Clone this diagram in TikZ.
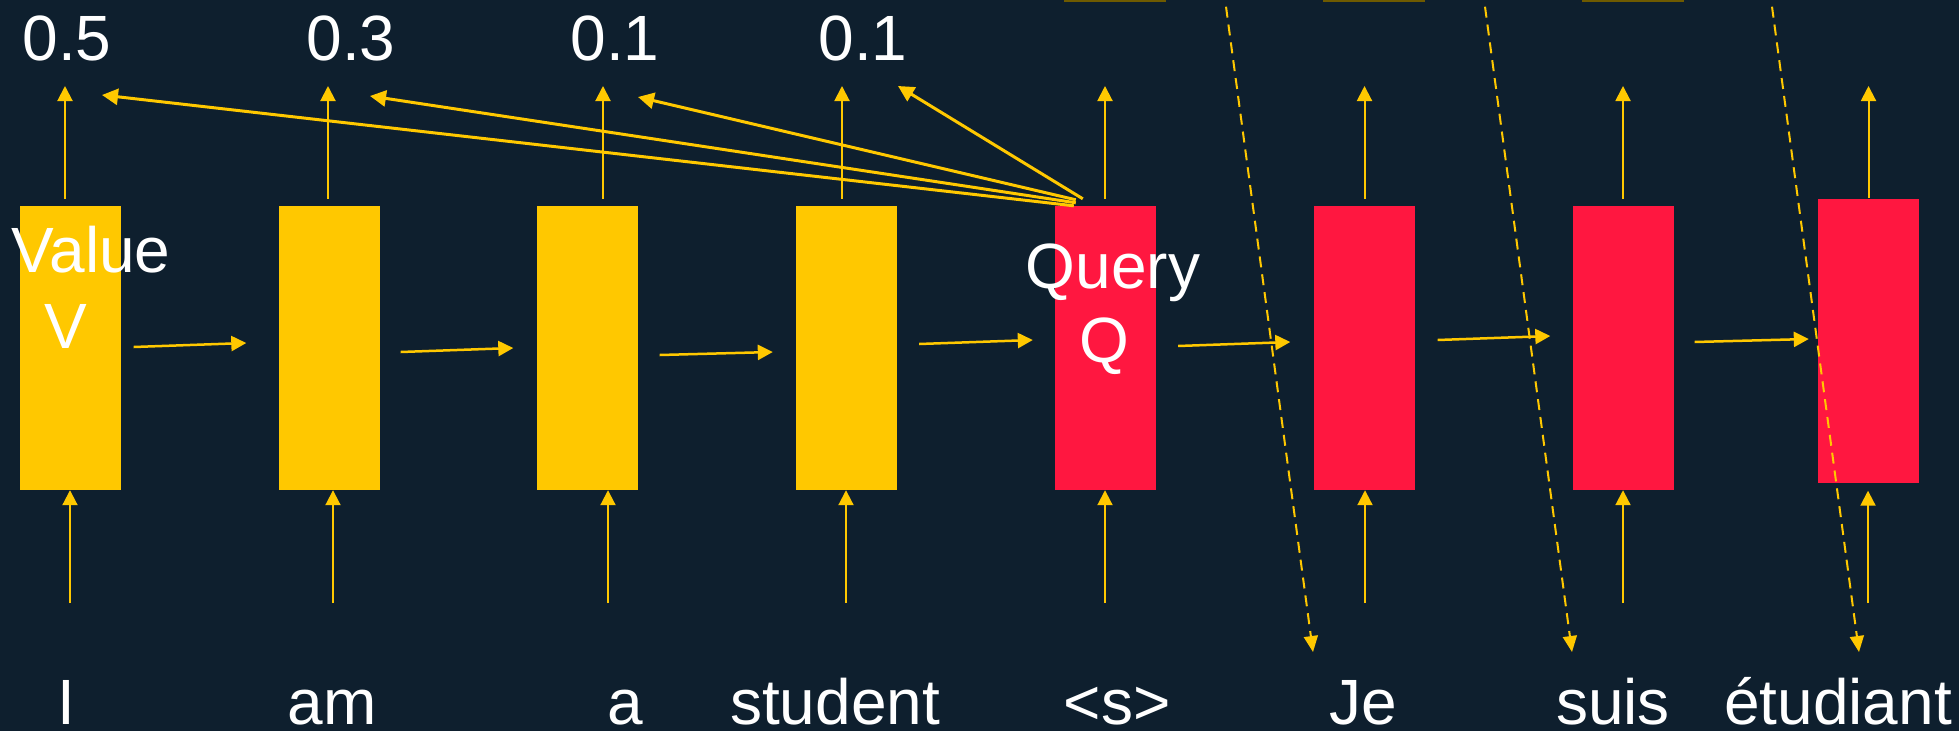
\documentclass[tikz,border=0pt]{standalone}
\usepackage{fontspec}
\setmainfont{Liberation Sans}
\usetikzlibrary{arrows.meta,calc}
\definecolor{bg}{HTML}{0E1F2E}
\definecolor{gold}{HTML}{FFC800}
\definecolor{rose}{HTML}{FF1740}
\definecolor{olive}{HTML}{6E5A00}
\begin{document}
\begin{tikzpicture}[x=1pt,y=-1pt,
  cell/.style={rectangle, inner sep=0pt, minimum width=101pt, minimum height=284pt},
  enc/.style={cell, fill=gold},
  dec/.style={cell, fill=rose},
  lbl/.style={text=white, font=\fontsize{64}{76}\selectfont, inner sep=0pt, anchor=base},
  vup/.style={gold, line width=2pt, -{Triangle[length=15pt,width=15pt]}},
  hnext/.style={gold, line width=2.5pt, -{Triangle[length=15pt,width=15pt]}},
  attn/.style={gold, line width=3pt, -{Triangle[length=16pt,width=16pt]}},
  guess/.style={gold, line width=2pt, dash pattern=on 11pt off 7pt, -{Triangle[length=16pt,width=14pt]}},
  stub/.style={rectangle, inner sep=0pt, fill=olive, minimum width=102pt, minimum height=3pt}]
\fill[bg] (0,0) rectangle (1959,731);
\useasboundingbox (0,0) rectangle (1959,731);

% encoder and decoder cells
\node[enc] (b1) at (70,348) {};
\node[enc] (b2) at (329,348) {};
\node[enc] (b3) at (587,348) {};
\node[enc] (b4) at (846.5,348) {};
\node[dec] (b5) at (1105.5,348) {};
\node[dec] (b6) at (1364,348) {};
\node[dec] (b7) at (1623,348) {};
\node[dec] (b8) at (1868.5,340.5) {};

% cells of the next layer, cut off at the top
\node[stub] (s5) at (1115,0) {};
\node[stub] (s6) at (1374,0) {};
\node[stub] (s7) at (1633,0) {};

% outputs above the cells
\coordinate (o1) at (65,86);
\coordinate (o2) at (328,86);
\coordinate (o3) at (603,86);
\coordinate (o4) at (842,86);
\coordinate (o5) at (1105,86);
\coordinate (o6) at (1364.5,86);
\coordinate (o7) at (1623,86);
\coordinate (o8) at (1868.5,86);
\foreach \k in {1,...,7}{
  \draw[vup] (b\k.north -| o\k) ++(0,-7) -- (o\k);
}
\draw[vup] (b8.north -| o8) -- (o8);

% inputs below the cells
\coordinate (i1) at (70,603);
\coordinate (i2) at (333,603);
\coordinate (i3) at (608,603);
\coordinate (i4) at (846,603);
\coordinate (i5) at (1105,603);
\coordinate (i6) at (1365,603);
\coordinate (i7) at (1623,603);
\coordinate (i8) at (1868,603);
\foreach \k in {1,...,7}{
  \draw[vup] (i\k) -- (i\k |- b\k.south);
}
\draw[vup] (i8) -- ($(i8 |- b8.south)+(0,8)$);

% recurrent connections
\draw[hnext] ($(b1.east)+(13,-1)$) -- ($(b2.west)+(-32,-5)$);
\draw[hnext] ($(b2.east)+(21,4)$) -- ($(b3.west)+(-23,0)$);
\draw[hnext] ($(b3.east)+(22,7)$) -- ($(b4.west)+(-23,4)$);
\draw[hnext] ($(b4.east)+(22,-4)$) -- ($(b5.west)+(-22,-8)$);
\draw[hnext] ($(b5.east)+(22,-2)$) -- ($(b6.west)+(-23,-6)$);
\draw[hnext] ($(b6.east)+(23,-8)$) -- ($(b7.west)+(-22,-12)$);
\draw[hnext] ($(b7.east)+(21,-6)$) -- ($(b8.west)+(-9,-1.5)$);

% attention from the query to the encoder outputs
\coordinate (a1) at (102,95);
\coordinate (a2) at (370,96);
\coordinate (a3) at (638,97);
\coordinate (a4) at (898,86);
\draw[attn] ($(b5.north west)+(19,0)$) -- (a1);
\draw[attn] ($(b5.north west)+(21,-3)$) -- (a2);
\draw[attn] ($(b5.north west)+(21,-6)$) -- (a3);
\draw[attn] ($(b5.north west)+(28,-7)$) -- (a4);

% attention weights
\node[lbl] (w1) at (67,60) {0.5};
\node[lbl] (w2) at (351,60) {0.3};
\node[lbl] (w3) at (615,60) {0.1};
\node[lbl] (w4) at (863,60) {0.1};

% cell labels
\node[lbl] (lv) at (91,272) {Value};
\node[lbl] (lvv) at (66,348) {V};
\node[lbl] (lq) at (1113,288) {Query};
\node[lbl] (lqq) at (1104,362) {Q};

% input words
\node[lbl] (x1) at (66,724) {I};
\node[lbl] (x2) at (332,724) {am};
\node[lbl] (x3) at (625,724) {a};
\node[lbl] (x4) at (835,724) {student};
\node[lbl] (x5) at (1117,724) {<s>};
\node[lbl] (x6) at (1363,724) {Je};
\node[lbl] (x7) at (1613,724) {suis};
\node[lbl] (x8) at (1838,724) {étudiant};

% predicted words fed back as next inputs
\coordinate (p6) at (1313,652);
\coordinate (p7) at (1572,652);
\coordinate (p8) at (1859,652);
\draw[guess] ($(s5.south)+(111,5)$) -- (p6);
\draw[guess] ($(s6.south)+(111,5)$) -- (p7);
\draw[guess] ($(s7.south)+(139,5)$) -- (p8);
\end{tikzpicture}
\end{document}
